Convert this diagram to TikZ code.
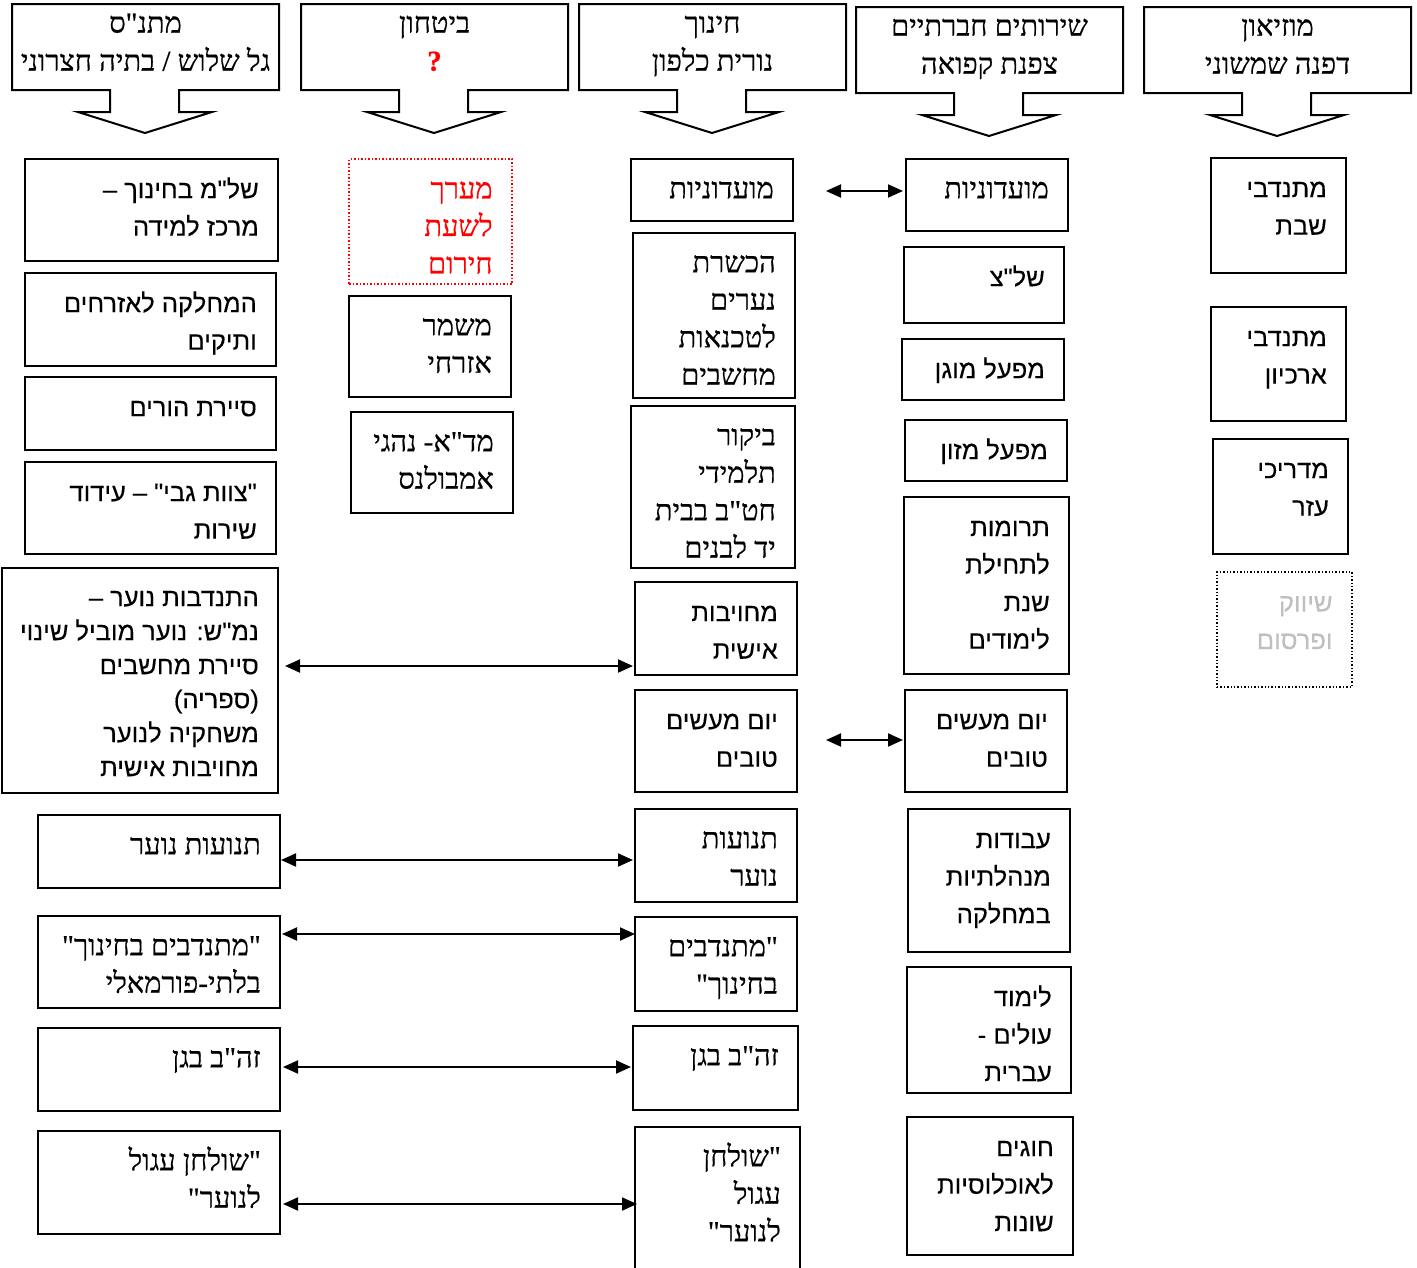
\documentclass[tikz,border=0pt]{standalone}
\usepackage{fontspec}
\setmainfont{Liberation Serif}
\newfontfamily\hse[Script=Hebrew,FakeBold=0.6]{Liberation Serif}
\newfontfamily\hsa[Script=Hebrew,FakeBold=0.2]{Liberation Sans}
\TeXXeTstate=1
\usetikzlibrary{arrows.meta,fit}
\newcommand\hb[1]{\beginR #1\endR}
\newcommand\fst{\rule{0pt}{28pt}}
\definecolor{lightgr}{HTML}{BFBFBF}
\tikzset{
  box/.style={draw=black, line width=2pt, inner sep=0pt},
  redbox/.style={draw=red, line width=1.5pt, dotted, inner sep=0pt},
  graybox/.style={draw=black, line width=1.4pt, dotted, inner sep=0pt},
  txt/.style={inner sep=0pt, align=right, anchor=north east},
  se/.style={txt, font=\hse\fontsize{29}{37.5}\selectfont},
  sa/.style={txt, font=\hsa\fontsize{25.5}{37.5}\selectfont},
  hdrst/.style={draw=black, line width=2pt, line join=miter},
  hdrtxt/.style={inner sep=0pt, align=center, anchor=north,
    font=\hse\fontsize{29}{38}\selectfont},
  dbl/.style={line width=2pt, {Triangle[length=15pt,width=13pt]}-{Triangle[length=15pt,width=13pt]}}
}
% #1 box style, #2 name, #3 text style, #4 x1, #5 y1, #6 x2, #7 y2, #8 text
\newcommand\bx[8][box]{%
  \node[#1, fit={(#4,#5) (#6,#7)}] (#2) {};
  \node[#3] (#2t) at ([xshift=-20pt,yshift=-12pt]#2.north east) {\fst#8};
}
% header: #1 name, #2 x1, #3 y1, #4 line1, #5 line2
\newcommand\hdr[5]{%
  \draw[hdrst] (#2,#3) -- ++(267,0) -- ++(0,86) -- ++(-100,0) -- ++(0,22)
    -- ++(33,0) -- ++(-67,21) -- ++(-67,-21) -- ++(32,0) -- ++(0,-22)
    -- ++(-98,0) -- cycle;
  \node[hdrtxt] (#1) at (#2+133.5,#3+0.5) {\fst#4\\#5};
}
\begin{document}
\begin{tikzpicture}[x=1pt,y=-1pt]
\useasboundingbox (0,0) rectangle (1417,1267);
% headers
\hdr{h1}{12}{4}{\hb{מתנ"ס}}{\hb{גל שלוש / בתיה חצרוני}}
\hdr{h2}{301}{4}{\hb{ביטחון}}{\textcolor{red}{\bfseries ?}}
\hdr{h3}{579}{4}{\hb{חינוך}}{\hb{נורית כלפון}}
\hdr{h4}{856}{7}{\hb{שירותים חברתיים}}{\hb{צפנת קפואה}}
\hdr{h5}{1144}{7}{\hb{מוזיאון}}{\hb{דפנה שמשוני}}
% column 1
\bx{c1a}{sa}{25}{159}{278}{261}{\hb{של"מ בחינוך –}\\\hb{מרכז למידה}}
\bx{c1b}{sa}{25}{273}{276}{366}{\hb{המחלקה לאזרחים}\\\hb{ותיקים}}
\bx{c1c}{sa}{25}{377}{276}{450}{\hb{סיירת הורים}}
\bx{c1d}{sa}{25}{462}{276}{554}{\hb{"צוות גבי" – עידוד}\\\hb{שירות}}
\node[box, fit={(2,568) (278,793)}] (c1e) {};
\node[txt, font=\hsa\fontsize{25.5}{34}\selectfont] (c1et) at ([xshift=-20pt,yshift=-11pt]c1e.north east)
  {\fst\hb{התנדבות נוער –}\\\hb{נמ"ש: נוער מוביל שינוי}\\\hb{סיירת מחשבים}\\\hb{(ספריה)}\\\hb{משחקיה לנוער}\\\hb{מחויבות אישית}};
\bx{c1f}{se}{38}{815}{280}{888}{\hb{תנועות נוער}}
\bx{c1g}{se}{38}{916}{280}{1008}{\hb{"מתנדבים בחינוך"}\\\hb{בלתי-פורמאלי}}
\bx{c1h}{se}{38}{1028}{280}{1111}{\hb{זה"ב בגן}}
\bx{c1i}{se}{38}{1131}{280}{1234}{\hb{"שולחן עגול}\\\hb{לנוער"}}
% column 2
\bx[redbox]{c2a}{se,text=red}{349}{159}{512}{284}{\hb{מערך}\\\hb{לשעת}\\\hb{חירום}}
\bx{c2b}{se}{349}{296}{511}{397}{\hb{משמר}\\\hb{אזרחי}}
\bx{c2c}{se}{351}{412}{513}{513}{\hb{מד"א- נהגי}\\\hb{אמבולנס}}
% column 3
\bx{c3a}{se}{631}{159}{793}{221}{\hb{מועדוניות}}
\bx{c3b}{se}{633}{233}{795}{398}{\hb{הכשרת}\\\hb{נערים}\\\hb{לטכנאות}\\\hb{מחשבים}}
\bx{c3c}{se}{631}{406}{795}{568}{\hb{ביקור}\\\hb{תלמידי}\\\hb{חט"ב בבית}\\\hb{יד לבנים}}
\bx{c3d}{sa}{635}{582}{797}{675}{\hb{מחויבות}\\\hb{אישית}}
\bx{c3e}{sa}{635}{690}{797}{792}{\hb{יום מעשים}\\\hb{טובים}}
\bx{c3f}{se}{635}{809}{797}{902}{\hb{תנועות}\\\hb{נוער}}
\bx{c3g}{se}{635}{917}{797}{1011}{\hb{"מתנדבים}\\\hb{בחינוך"}}
\bx{c3h}{se}{633}{1026}{798}{1110}{\hb{זה"ב בגן}}
\bx{c3i}{se}{635}{1127}{800}{1300}{\hb{"שולחן}\\\hb{עגול}\\\hb{לנוער"}}
% column 4
\bx{c4a}{se}{906}{159}{1068}{231}{\hb{מועדוניות}}
\bx{c4b}{sa}{904}{247}{1064}{323}{\hb{של"צ}}
\bx{c4c}{sa}{902}{339}{1064}{400}{\hb{מפעל מוגן}}
\bx{c4d}{sa}{905}{420}{1067}{481}{\hb{מפעל מזון}}
\bx{c4e}{sa}{904}{497}{1069}{674}{\hb{תרומות}\\\hb{לתחילת}\\\hb{שנת}\\\hb{לימודים}}
\bx{c4f}{sa}{905}{690}{1067}{792}{\hb{יום מעשים}\\\hb{טובים}}
\bx{c4g}{sa}{908}{809}{1070}{952}{\hb{עבודות}\\\hb{מנהלתיות}\\\hb{במחלקה}}
\bx{c4h}{sa}{907}{967}{1071}{1093}{\hb{לימוד}\\\hb{עולים -}\\\hb{עברית}}
\bx{c4i}{sa}{907}{1117}{1073}{1255}{\hb{חוגים}\\\hb{לאוכלוסיות}\\\hb{שונות}}
% column 5
\bx{c5a}{sa}{1211}{158}{1346}{273}{\hb{מתנדבי}\\\hb{שבת}}
\bx{c5b}{sa}{1211}{307}{1346}{421}{\hb{מתנדבי}\\\hb{ארכיון}}
\bx{c5c}{sa}{1213}{439}{1348}{554}{\hb{מדריכי}\\\hb{עזר}}
\bx[graybox]{c5d}{sa,text=lightgr}{1217}{572}{1352}{687}{\hb{שיווק}\\\hb{ופרסום}}
% connectors
\draw[dbl, shorten <=32pt, shorten >=2pt] (c3a.east |- 0,191) -- (c4a.west |- 0,191);
\draw[dbl, shorten <=28pt, shorten >=1pt] (c3e.east |- 0,740) -- (c4f.west |- 0,740);
\draw[dbl, shorten <=6pt, shorten >=1pt] (c1e.east |- 0,666) -- (c3d.west |- 0,666);
\draw[dbl, shorten >=1pt] (c1f.east |- 0,860) -- (c3f.west |- 0,860);
\draw[dbl, shorten <=1pt, shorten >=-1pt] (c1g.east |- 0,934) -- (c3g.west |- 0,934);
\draw[dbl, shorten <=2pt, shorten >=1pt] (c1h.east |- 0,1067) -- (c3h.west |- 0,1067);
\draw[dbl, shorten <=2pt, shorten >=-3pt] (c1i.east |- 0,1204) -- (c3i.west |- 0,1204);
\end{tikzpicture}
\end{document}
